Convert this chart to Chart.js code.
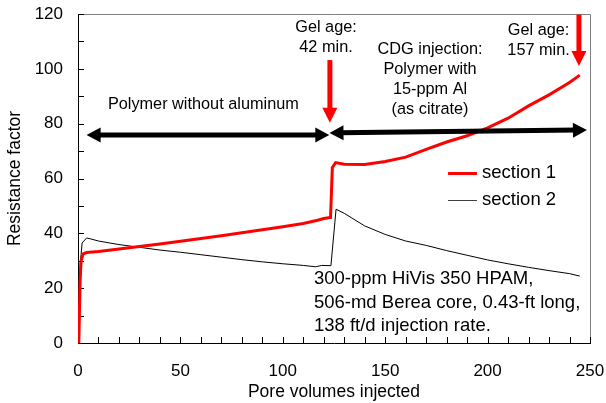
<!DOCTYPE html>
<html>
<head>
<meta charset="utf-8">
<script src="https://cdn.jsdelivr.net/npm/chart.js@4/dist/chart.umd.min.js"></script>
<style>
  html, body { margin: 0; padding: 0; background: #fff; }
</style>
</head>
<body>
<canvas id="rf-chart" width="606" height="403"></canvas>
<script>
// pore volumes injected / resistance factor
var sec1PV = [0.4, 1, 1.5, 2.5, 4.2, 10, 20, 30, 40, 50, 60, 70, 80, 90, 100, 110, 117, 120, 123.3,
              124.2, 125.8, 130, 140, 150, 160, 170, 180, 190, 200, 210, 220, 230, 240, 245];
var sec1RF = [0, 22, 30, 32.5, 33.0, 33.4, 34.3, 35.2, 36.1, 37.1, 38.1, 39.1, 40.2, 41.3, 42.4, 43.6, 44.8, 45.4, 45.8,
              64, 65.8, 65.2, 65.1, 66.2, 67.8, 70.6, 73.3, 75.6, 78.5, 82.0, 86.5, 90.5, 95, 97.7];

var sec2PV = [0.1, 1, 2, 4.2, 6, 10, 20, 30, 40, 50, 60, 70, 80, 90, 100, 110, 116, 119, 123.5,
              126, 130, 140, 150, 160, 170, 180, 190, 200, 210, 220, 230, 240, 245];
var sec2RF = [0, 28, 36.5, 38.3, 38, 37.2, 35.9, 34.9, 33.9, 33.1, 32.2, 31.3, 30.4, 29.6, 28.9, 28.3, 27.8, 28.3, 28.2,
              48.8, 47.3, 42.7, 39.6, 37.2, 35.6, 33.7, 32, 30.3, 28.9, 27.6, 26.4, 25.3, 24.4];

var xTicks = { min: 0, max: 250, step: 10, labelEvery: 50 };
var yTicks = { min: 0, max: 120, step: 10, labelEvery: 20 };

var FAMILY = '"Liberation Sans", Arial, sans-serif';

function pts(xs, ys) {
    return xs.map(function(x, i) { return { x: x, y: ys[i] }; });
}

// annotations, in data units
var redArrows = [
    { x: 123.0, yTop: 103.2, yTip: 80.3 },
    { x: 244.6, yTop: 119.8, yTip: 101.0 }
];
var spanArrows = [
    { x1: 4.2, y1: 75.9, x2: 122.7, y2: 75.9 },
    { x1: 122.8, y1: 76.6, x2: 248.5, y2: 77.7 }
];
var centerNotes = [
    { x: 121.1, y: 114.9, text: 'Gel age:' },
    { x: 121.1, y: 107.8, text: '42 min.' },
    { x: 171.9, y: 107.0, text: 'CDG injection:' },
    { x: 171.9, y: 99.7, text: 'Polymer with' },
    { x: 171.9, y: 92.4, text: '15-ppm Al' },
    { x: 171.9, y: 85.3, text: '(as citrate)' },
    { x: 224.9, y: 113.9, text: 'Gel age:' },
    { x: 224.9, y: 106.6, text: '157 min.' },
    { x: 61.2, y: 87.1, text: 'Polymer without aluminum' }
];
var infoLines = [
    { x: 115.2, y: 23.2, text: '300-ppm HiVis 350 HPAM,' },
    { x: 115.2, y: 14.8, text: '506-md Berea core, 0.43-ft long,' },
    { x: 115.2, y: 6.3, text: '138 ft/d injection rate.' }
];
var legendRows = [
    { x1: 180.7, x2: 194.8, y: 62.1, tx: 197.3, text: 'section 1', color: '#ff0000', width: 3 },
    { x1: 180.7, x2: 194.8, y: 52.2, tx: 197.3, text: 'section 2', color: '#404040', width: 1 }
];

function head(ctx, tx, ty, dx, dy, len, half) {
    var bx = tx - dx * len, by = ty - dy * len;
    ctx.beginPath();
    ctx.moveTo(tx, ty);
    ctx.lineTo(bx - dy * half, by + dx * half);
    ctx.lineTo(bx + dy * half, by - dx * half);
    ctx.closePath();
    ctx.fill();
}

var frameAndTicks = {
    id: 'frameAndTicks',
    beforeDatasetsDraw: function(chart) {
        var ctx = chart.ctx, a = chart.chartArea;
        var xs = chart.scales.x, ys = chart.scales.y;
        ctx.save();
        ctx.strokeStyle = '#808080';
        ctx.lineWidth = 1;
        ctx.beginPath();
        ctx.moveTo(a.left, a.top + 0.5);
        ctx.lineTo(a.right + 0.5, a.top + 0.5);
        ctx.lineTo(a.right + 0.5, a.bottom);
        ctx.stroke();
        ctx.strokeStyle = '#000';
        ctx.beginPath();
        xs.ticks.forEach(function(t) {
            var x = Math.round(xs.getPixelForValue(t.value)) + 0.5;
            ctx.moveTo(x, a.bottom);
            ctx.lineTo(x, a.bottom - 6);
        });
        ys.ticks.forEach(function(t) {
            var y = Math.round(ys.getPixelForValue(t.value)) + 0.5;
            ctx.moveTo(a.left, y);
            ctx.lineTo(a.left + 6, y);
        });
        ctx.stroke();
        ctx.restore();
    }
};

var overlay = {
    id: 'overlay',
    afterDatasetsDraw: function(chart) {
        var ctx = chart.ctx;
        var px = function(v) { return chart.scales.x.getPixelForValue(v); };
        var py = function(v) { return chart.scales.y.getPixelForValue(v); };
        ctx.save();

        // red down arrows
        ctx.fillStyle = '#ff0000';
        ctx.strokeStyle = '#ff0000';
        ctx.lineWidth = 5;
        redArrows.forEach(function(r) {
            var x = px(r.x), y0 = py(r.yTop), y1 = py(r.yTip);
            ctx.beginPath();
            ctx.moveTo(x, y0);
            ctx.lineTo(x, y1 - 12);
            ctx.stroke();
            head(ctx, x, y1, 0, 1, 15, 7.5);
        });

        // black double arrows
        ctx.fillStyle = '#000';
        ctx.strokeStyle = '#000';
        ctx.lineWidth = 5;
        spanArrows.forEach(function(s) {
            var x1 = px(s.x1), y1 = py(s.y1), x2 = px(s.x2), y2 = py(s.y2);
            var L = Math.hypot(x2 - x1, y2 - y1), dx = (x2 - x1) / L, dy = (y2 - y1) / L;
            ctx.beginPath();
            ctx.moveTo(x1 + dx * 10, y1 + dy * 10);
            ctx.lineTo(x2 - dx * 10, y2 - dy * 10);
            ctx.stroke();
            head(ctx, x2, y2, dx, dy, 14, 7.5);
            head(ctx, x1, y1, -dx, -dy, 14, 7.5);
        });

        ctx.fillStyle = '#000';
        ctx.textBaseline = 'middle';
        ctx.textAlign = 'center';
        ctx.font = '16.3px ' + FAMILY;
        centerNotes.forEach(function(n) { ctx.fillText(n.text, px(n.x), py(n.y)); });

        ctx.textAlign = 'left';
        ctx.font = '18.5px ' + FAMILY;
        infoLines.forEach(function(n) { ctx.fillText(n.text, px(n.x), py(n.y)); });

        legendRows.forEach(function(r) {
            ctx.strokeStyle = r.color;
            ctx.lineWidth = r.width;
            ctx.beginPath();
            var y = Math.round(py(r.y)) + (r.width % 2 ? 0.5 : 0);
            ctx.moveTo(px(r.x1), y);
            ctx.lineTo(px(r.x2), y);
            ctx.stroke();
            ctx.fillStyle = '#000';
            ctx.fillText(r.text, px(r.tx), py(r.y));
        });
        ctx.restore();
    }
};

var ctx = document.getElementById('rf-chart').getContext('2d');
var rfChart = new Chart(ctx, {
    type: 'line',
    data: {
        datasets: [
            {
                label: 'section 1',
                data: pts(sec1PV, sec1RF),
                borderColor: '#ff0000',
                borderWidth: 3,
                pointRadius: 0,
                tension: 0,
                fill: false
            },
            {
                label: 'section 2',
                data: pts(sec2PV, sec2RF),
                borderColor: '#000000',
                borderWidth: 1,
                pointRadius: 0,
                tension: 0,
                fill: false
            }
        ]
    },
    options: {
        responsive: false,
        animation: false,
        devicePixelRatio: 1,
        layout: { padding: { left: 0, right: 16, top: 14, bottom: 0 } },
        plugins: { legend: { display: false }, tooltip: { enabled: false } },
        scales: {
            x: {
                type: 'linear',
                min: xTicks.min,
                max: xTicks.max,
                afterFit: function(scale) {
                    scale.height = 60;
                    scale.paddingLeft = 0;
                    scale.paddingRight = 0;
                },
                grid: { drawOnChartArea: false, drawTicks: false },
                border: { color: '#000', width: 1 },
                ticks: {
                    stepSize: xTicks.step,
                    autoSkip: false,
                    maxRotation: 0,
                    padding: 18,
                    color: '#000',
                    font: { family: FAMILY, size: 17 },
                    callback: function(v) { return v % xTicks.labelEvery === 0 ? v : ''; }
                },
                title: {
                    display: true,
                    text: 'Pore volumes injected',
                    color: '#000',
                    font: { family: FAMILY, size: 17.5 },
                    padding: { top: 0, bottom: 0 }
                }
            },
            y: {
                min: yTicks.min,
                max: yTicks.max,
                afterFit: function(scale) {
                    scale.width = 78;
                    scale.paddingTop = 0;
                    scale.paddingBottom = 0;
                },
                grid: { drawOnChartArea: false, drawTicks: false },
                border: { color: '#000', width: 1 },
                ticks: {
                    stepSize: yTicks.step,
                    autoSkip: false,
                    padding: 15,
                    color: '#000',
                    font: { family: FAMILY, size: 17 },
                    callback: function(v) { return v % yTicks.labelEvery === 0 ? v : ''; }
                },
                title: {
                    display: true,
                    text: 'Resistance factor',
                    color: '#000',
                    font: { family: FAMILY, size: 17.5 },
                    padding: { top: 5, bottom: 0 }
                }
            }
        }
    },
    plugins: [frameAndTicks, overlay]
});
</script>
</body>
</html>
